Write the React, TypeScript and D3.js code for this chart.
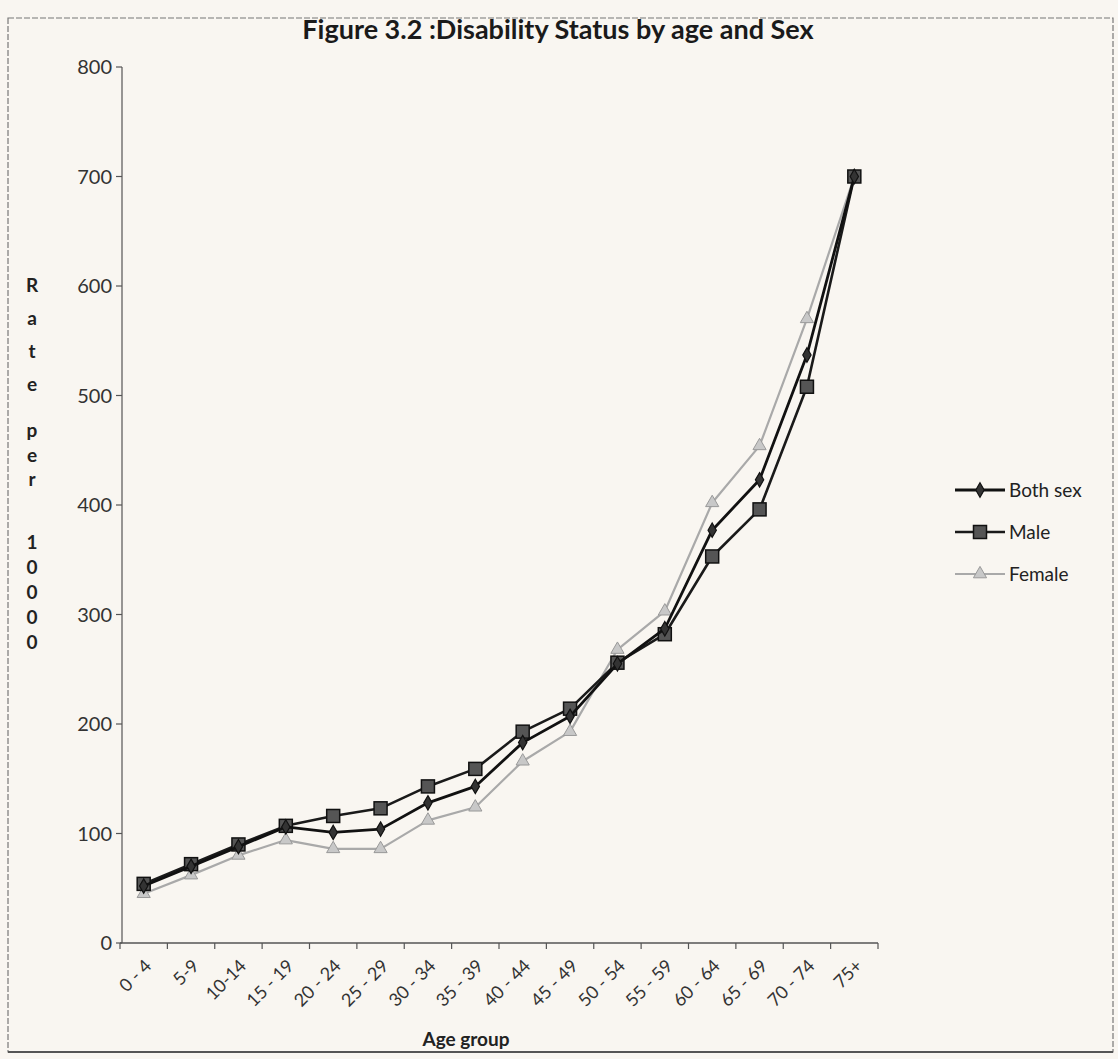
import React from "react";
import * as d3 from "d3";

const ageGroups = ["0 - 4", "5-9", "10-14", "15 - 19", "20 - 24", "25 - 29", "30 - 34", "35 - 39", "40 - 44", "45 - 49", "50 - 54", "55 - 59", "60 - 64", "65 - 69", "70 - 74", "75+"];
const bothSex = [52, 70, 88, 106, 101, 104, 128, 143, 183, 207, 255, 287, 377, 423, 537, 700];
const male = [54, 72, 90, 107, 116, 123, 143, 159, 193, 214, 256, 282, 353, 396, 508, 700];
const female = [45, 62, 80, 94, 86, 86, 112, 124, 166, 193, 268, 303, 402, 454, 570, 700];
const yTicks = [0, 100, 200, 300, 400, 500, 600, 700, 800];
const yLabelChars = ["R", "a", "t", "e", "p", "e", "r", "1", "0", "0", "0", "0"];
const yLabelRows = [285, 318, 351, 384, 430, 455, 479, 542, 567, 592, 617, 642];
const legendItems = ["Both sex", "Male", "Female"];

const W = 1118;
const H = 1059;
const FONT = "Lato, 'Open Sans', sans-serif";

export default function App() {
  const x = d3.scaleBand<string>().domain(ageGroups).range([120, 878]);
  const y = d3.scaleLinear().domain([0, 800]).range([943, 67]);
  const cx = (i: number) => (x(ageGroups[i]) as number) + x.bandwidth() / 2;
  const line = d3
    .line<number>()
    .x((_, i) => cx(i))
    .y((d) => y(d));

  const series = [
    { name: "Both sex", values: bothSex, color: "#111", width: 2.8, marker: "diamond" },
    { name: "Male", values: male, color: "#1a1a1a", width: 2.6, marker: "square" },
    { name: "Female", values: female, color: "#a9a9a9", width: 2.2, marker: "triangle" },
  ];

  const marker = (kind: string, px: number, py: number, key: string) => {
    if (kind === "diamond") {
      const s = d3.symbol(d3.symbolDiamond, 60)();
      return <path key={key} d={s as string} transform={`translate(${px},${py})`} fill="#333" stroke="#111" strokeWidth={1.2} />;
    }
    if (kind === "square") {
      return <rect key={key} x={px - 6.5} y={py - 6.5} width={13} height={13} fill="#555" stroke="#111" strokeWidth={1.5} />;
    }
    const s = d3.symbol(d3.symbolTriangle, 75)();
    return <path key={key} d={s as string} transform={`translate(${px},${py})`} fill="#c8c8c8" stroke="#999" strokeWidth={1} />;
  };

  const lastTick = x.range()[1];
  const tickXs = ageGroups.map((g) => x(g) as number).concat([lastTick]);

  return (
    <svg width={W} height={H} style={{ display: "block", position: "absolute", left: 0, top: 0 }} fontFamily={FONT}>
      <rect x={0} y={0} width={W} height={H} fill="#f9f6f1" />
      <rect x={8} y={18} width={1105} height={1034} fill="none" stroke="#777" strokeWidth={1.2} strokeDasharray="6 2" />
      <line x1={8} y1={1052} x2={1113} y2={1052} stroke="#555" strokeWidth={2} />

      <text x={558} y={39} textAnchor="middle" fontSize={27} fontWeight="bold" fill="#1a1a1a">
        Figure 3.2 :Disability Status by age and Sex
      </text>

      {/* y axis */}
      <line x1={122} y1={y(800)} x2={122} y2={y(0)} stroke="#555" strokeWidth={1.2} />
      {yTicks.map((t) => (
        <g key={t}>
          <line x1={116} y1={y(t)} x2={122} y2={y(t)} stroke="#555" strokeWidth={1.2} />
          <text x={112} y={y(t) + 7} textAnchor="end" fontSize={20} fill="#333">
            {t}
          </text>
        </g>
      ))}

      {/* y axis title */}
      {yLabelChars.map((c, i) => (
        <text key={i} x={32} y={yLabelRows[i] + 7} textAnchor="middle" fontSize={19} fontWeight="bold" fill="#222">
          {c}
        </text>
      ))}

      {/* x axis */}
      <line x1={120} y1={y(0)} x2={lastTick} y2={y(0)} stroke="#555" strokeWidth={1.4} />
      {tickXs.map((tx, i) => (
        <line key={i} x1={tx} y1={y(0)} x2={tx} y2={y(0) + 6} stroke="#555" strokeWidth={1.2} />
      ))}
      {ageGroups.map((g, i) => (
        <text
          key={g}
          transform={`translate(${cx(i) + 9},${y(0) + 24}) rotate(-45)`}
          textAnchor="end"
          fontSize={18}
          fill="#333"
        >
          {g}
        </text>
      ))}
      <text x={466} y={1046} textAnchor="middle" fontSize={19} fontWeight="bold" fill="#222">
        Age group
      </text>

      {/* series, drawn female first so dark lines stay on top */}
      {[...series].reverse().map((s) => (
        <g key={s.name}>
          <path d={line(s.values) as string} fill="none" stroke={s.color} strokeWidth={s.width} strokeLinejoin="round" />
          {s.values.map((v, i) => marker(s.marker, cx(i), y(v), `${s.name}-${i}`))}
        </g>
      ))}

      {/* legend */}
      {legendItems.map((name, i) => {
        const s = series[i];
        const ly = 490 + i * 42;
        return (
          <g key={name}>
            <line x1={955} y1={ly} x2={1005} y2={ly} stroke={s.color} strokeWidth={s.width} />
            {marker(s.marker, 980, ly, `lg-${i}`)}
            <text x={1009} y={ly + 7} fontSize={19} fill="#222">
              {name}
            </text>
          </g>
        );
      })}
    </svg>
  );
}
